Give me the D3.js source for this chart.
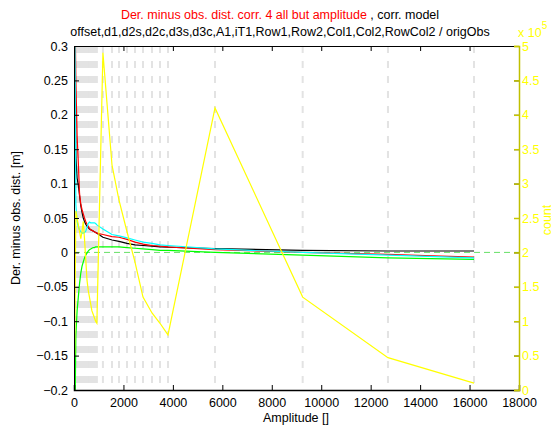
<!DOCTYPE html>
<html><head><meta charset="utf-8">
<script src="https://cdn.jsdelivr.net/npm/d3@7"></script>
<style>
body{margin:0;background:#fff;}
svg{display:block;font-family:"Liberation Sans",Arial,sans-serif;}
</style></head>
<body><svg id="c" width="551" height="428"></svg>
<script>
const amplitude = [25,75,125,175,225,275,325,375,425,475,525,575,625,675,725,775,825,875,925,1170,1537,1820,2144,2467,2791,3155,3479,3802,5703,9250,12700,16180];
const blackVals = [0.35,0.14,0.108,0.098,0.082,0.068,0.058,0.050,0.045,0.041,0.038,0.036,0.034,0.033,0.032,0.031,0.030,0.029,0.028,0.022,0.018,0.016,0.013,0.011,0.010,0.009,0.008,0.0075,0.0055,0.003,0.002,0.002];
const redVals = [0.40,0.25,0.17,0.13,0.085,0.070,0.062,0.056,0.050,0.045,0.041,0.038,0.035,0.033,0.032,0.031,0.030,0.029,0.028,0.026,0.023,0.022,0.019,0.015,0.012,0.010,0.009,0.008,0.004,0.000,-0.003,-0.007];
const cyanVals = [0.40,0.07,0.045,0.037,0.033,0.030,0.028,0.028,0.029,0.031,0.036,0.042,0.044,0.043,0.043,0.043,0.043,0.042,0.040,0.034,0.026,0.024,0.021,0.018,0.015,0.013,0.011,0.010,0.005,0.000,-0.004,-0.008];
const greenVals = [-0.30,-0.12,-0.085,-0.065,-0.045,-0.030,-0.020,-0.014,-0.008,-0.004,-0.001,0.002,0.004,0.005,0.006,0.007,0.007,0.008,0.008,0.008,0.008,0.008,0.007,0.006,0.005,0.004,0.003,0.003,0.000,-0.004,-0.008,-0.010];
const countVals = [0.5,2.6,2.5,2.4,2.3,2.2,2.3,2.45,2.2,1.9,1.6,1.45,1.35,1.25,1.15,1.1,1.05,1.0,0.97,4.9,3.27,2.76,2.3,1.86,1.35,1.12,0.97,0.80,4.10,1.35,0.47,0.10]; // x 10^5
const xTicks = [0,2000,4000,6000,8000,10000,12000,14000,16000,18000];
const yTicks = [-0.2,-0.15,-0.1,-0.05,0,0.05,0.1,0.15,0.2,0.25,0.3];
const y2Ticks = [0,0.5,1,1.5,2,2.5,3,3.5,4,4.5,5];
const titleRed = "Der. minus obs. dist. corr. 4 all but amplitude";
const titleBlack = " , corr. model";
const title2 = "offset,d1,d2s,d2c,d3s,d3c,A1,iT1,Row1,Row2,Col1,Col2,RowCol2 / origObs";

const svg = d3.select("#c");
const L=74, R=519, T=46, B=390;
const x = d3.scaleLinear().domain([0,18000]).range([L,R]);
const y = d3.scaleLinear().domain([-0.2,0.3]).range([B,T]);
const y2 = d3.scaleLinear().domain([0,5]).range([B,T]);

svg.append("defs").append("clipPath").attr("id","clip")
  .append("rect").attr("x",L).attr("y",T).attr("width",R-L).attr("height",B-T);
const g = svg.append("g").attr("clip-path","url(#clip)");

// grey dashed verticals at sample amplitudes
g.selectAll("line.v").data(amplitude).enter().append("line")
  .attr("x1",d=>x(d)).attr("x2",d=>x(d)).attr("y1",T).attr("y2",B)
  .attr("stroke","#e3e3e3").attr("stroke-width",2).attr("stroke-dasharray","7,8");

// zero reference
g.append("line").attr("x1",L).attr("x2",R).attr("y1",y(0)).attr("y2",y(0))
  .attr("stroke","#66e066").attr("stroke-width",1).attr("stroke-dasharray","6,4");

// left-edge dashed lines
g.append("line").attr("x1",x(10)).attr("x2",x(10)).attr("y1",T).attr("y2",B)
  .attr("stroke","#000").attr("stroke-width",1.5).attr("stroke-dasharray","6,4");
g.append("line").attr("x1",x(10)).attr("x2",x(10)).attr("y1",T).attr("y2",y(0.07))
  .attr("stroke","#f00").attr("stroke-width",1.5).attr("stroke-dasharray","4,6").attr("stroke-dashoffset",-6);

const line = d3.line().x((d,i)=>x(amplitude[i])).y(d=>y(d));
[[greenVals,"#00ff00"],[blackVals,"#000"],[redVals,"#ff0000"],[cyanVals,"#00ffff"]].forEach(([v,c])=>{
  g.append("path").attr("d",line(v)).attr("fill","none").attr("stroke",c).attr("stroke-width",1.2);
});
const line2 = d3.line().x((d,i)=>x(amplitude[i])).y(d=>y2(d));
g.append("path").attr("d",line2(countVals)).attr("fill","none").attr("stroke","#ffff00").attr("stroke-width",1.2);

// axes
const fs = "12.5px";
const ax = svg.append("g").attr("transform",`translate(0,${B})`)
  .call(d3.axisBottom(x).tickValues(xTicks).tickFormat(d3.format("d")).tickSize(-5).tickPadding(8));
const axT = svg.append("g").attr("transform",`translate(0,${T})`)
  .call(d3.axisTop(x).tickValues(xTicks).tickFormat("").tickSize(-5));
const ay = svg.append("g").attr("transform",`translate(${L},0)`)
  .call(d3.axisLeft(y).tickValues(yTicks).tickFormat(d=>d3.format("")(+d.toFixed(2))).tickSize(-5).tickPadding(6));
const ayR = svg.append("g").attr("transform",`translate(${R},0)`)
  .call(d3.axisRight(y).tickValues(yTicks).tickFormat("").tickSize(-5));
const ay2 = svg.append("g").attr("transform",`translate(${R},0)`)
  .call(d3.axisRight(y2).tickValues(y2Ticks).tickFormat(d=>d3.format("")(d)).tickSize(-5).tickPadding(3));
[ax,axT,ay,ayR].forEach(a=>{a.selectAll("path,line").attr("stroke","#000");a.selectAll("text").attr("fill","#000").style("font-size",fs).style("font-family","Liberation Sans, Arial, sans-serif");});
ay2.select("path").attr("stroke","#c0c000").attr("stroke-width",1.5);
ay2.selectAll("line").attr("stroke","#c8c800").attr("stroke-width",1.5);
ay2.selectAll("text").attr("fill","#ffff00").style("font-size","12.5px").style("font-family","Liberation Sans, Arial, sans-serif");
ax.select("path").attr("stroke-width",1.5);

// labels
svg.append("text").attr("x",296).attr("y",422).attr("text-anchor","middle").style("font-size",fs).text("Amplitude []");
svg.append("text").attr("transform","translate(20,218) rotate(-90)").attr("text-anchor","middle").style("font-size",fs).text("Der. minus obs. dist. [m]");
svg.append("text").attr("transform","translate(551,220) rotate(-90)").attr("text-anchor","middle").attr("fill","#ffff00").style("font-size","12.5px").text("count");
const ex = svg.append("text").attr("x",518).attr("y",37).attr("fill","#ffff00").style("font-size","12.5px");
ex.append("tspan").text("x 10");
ex.append("tspan").attr("dy",-8).style("font-size","10px").text("5");

const t1 = svg.append("text").attr("x",280).attr("y",19).attr("text-anchor","middle").style("font-size",fs);
t1.append("tspan").attr("fill","#ff0000").text(titleRed);
t1.append("tspan").attr("fill","#000").text(titleBlack);
svg.append("text").attr("x",280).attr("y",36).attr("text-anchor","middle").style("font-size",fs).text(title2);
</script></body></html>
